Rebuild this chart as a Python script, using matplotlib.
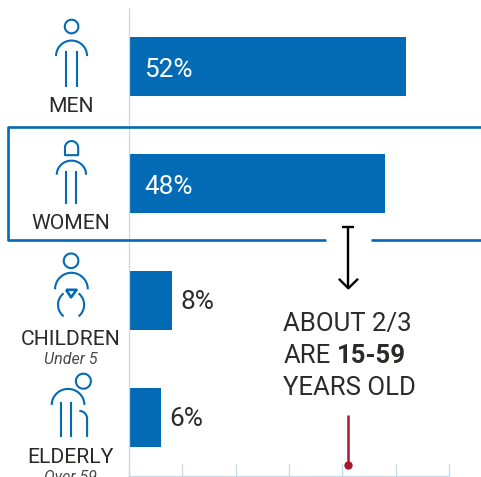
import numpy as np
import matplotlib
matplotlib.use('Agg')
import matplotlib.pyplot as plt

W, H = 481, 477

groups = ['MEN', 'WOMEN', 'CHILDREN', 'ELDERLY']
subtitles = ['', '', 'Under 5', 'Over 59']
shares = [52, 48, 8, 6]
ticks = [0, 10, 20, 30, 40, 50, 60]
marker_value = 41

BLUE = '#036ab5'
AXIS = '#c3d8e8'
DARK = '#2b2a29'
RED = '#a6192e'

plt.rcParams['font.family'] = ['Roboto', 'DejaVu Sans']

fig = plt.figure(figsize=((W + 0.5) / 100, (H + 0.5) / 100), dpi=100)

# chart axes, placed in pixels
ax = fig.add_axes([128.8 / W, 1 - 476 / H, 319.7 / W, 467.5 / H])
ax.barh(range(4), shares, height=0.5, color=BLUE)
ax.set_xlim(0, 60)
ax.set_ylim(3.5, -0.5)
ax.set_xticks(ticks)
ax.set_xticklabels([])
ax.set_yticks([])
ax.tick_params(axis='x', direction='in', length=9, width=0.9, color=AXIS)
for s in ['top', 'right']:
    ax.spines[s].set_visible(False)
for s in ['left', 'bottom']:
    ax.spines[s].set_color(AXIS)
    ax.spines[s].set_linewidth(0.9)
ax.patch.set_alpha(0)

for i, v in enumerate(shares):
    if v > 20:
        ax.annotate(f'{v}%', (0, i), xytext=(15 * 0.72, 0), textcoords='offset points',
                    color='white', fontsize=18.8, va='center_baseline', ha='left')
    else:
        ax.annotate(f'{v}%', (v, i), xytext=(8.5 * 0.72, 1), textcoords='offset points',
                    color=DARK, fontsize=18.8, va='center_baseline', ha='left')

# overlay in pixel coordinates for the icons and callouts
ov = fig.add_axes([0, 0, 1, 1])
ov.set_xlim(0, W)
ov.set_ylim(H, 0)
ov.axis('off')
ov.patch.set_alpha(0)


def line(xs, ys, color=BLUE, lw=1.5):
    ov.plot(xs, ys, color=color, lw=lw, solid_capstyle='butt', solid_joinstyle='round')


def head(cx, cy, r):
    t = np.linspace(0, 2 * np.pi, 60)
    line(cx + r * np.cos(t), cy + r * np.sin(t))


def arc(x0, x1, top, end):
    cx = (x0 + x1) / 2
    rx = (x1 - x0) / 2
    t = np.linspace(np.pi, 2 * np.pi, 40)
    line(cx + rx * np.cos(t), end + (end - top) * np.sin(t))


# men
head(71.5, 27, 6.8)
arc(56, 87, 41, 56.5)
line([66, 66], [51.5, 87])
line([76.5, 76.5], [51.5, 87])

# women
t = np.linspace(np.pi, 2 * np.pi, 30)
line(np.r_[71.5 + 6.6 * np.cos(t), 78.1, 64.9, 64.9],
     np.r_[148 + 6.6 * np.sin(t), 155.5, 155.5, 148])
arc(56.7, 86, 161, 175)
line([66, 66], [171, 204.5])
line([76, 76], [171, 204.5])

# children
head(71, 261, 7.3)
arc(55, 87.7, 273, 289.5)
line([66, 76.5, 71, 66], [290, 290, 297.5, 290], lw=1.9)
t = np.radians(np.linspace(125, 235, 30))
line(71 + 13 * np.cos(t), 305 + 14 * np.sin(-t))
line(71 - 13 * np.cos(t), 305 + 14 * np.sin(-t))

# elderly
head(83.3, 381.3, 7.5)
arc(51.7, 84.3, 389, 405)
line([61.3, 61.3], [402, 437])
line([71, 71], [402, 437])
t = np.linspace(-np.pi / 2, 0, 15)
line(np.r_[79.3, 79.3 + 7.7 * np.cos(t), 87], np.r_[411, 418.7 + 7.7 * np.sin(t), 437])

# group names
for y, name in zip([112, 229, 344.5, 462.5], groups):
    ov.text(70.5, y, name, color=DARK, fontsize=15.2, ha='center', va='baseline')
for y, sub in zip([364, 481], subtitles[2:]):
    ov.text(70.5, y, sub, color='#4a4a4a', fontsize=11.5, style='italic',
            ha='center', va='baseline', clip_on=True)

# highlight box around women
line([481, 8, 8, 326], [127.5, 127.5, 240.5, 240.5], lw=1.9)
line([371, 481], [240.5, 240.5], lw=1.9)

# arrow
line([342, 354], [227, 227], color='black', lw=1.7)
line([348, 348], [227, 288], color='black', lw=1.7)
line([338.5, 348, 357.7], [279, 288.5, 279], color='black', lw=1.7)

# callout
ov.text(283, 331, 'ABOUT 2/3', color=DARK, fontsize=18.5, va='baseline')
ov.text(283, 363, 'ARE', color=DARK, fontsize=18.5, va='baseline')
ov.text(337, 363, '15-59', color=DARK, fontsize=18.5, fontweight='bold', va='baseline')
ov.text(283, 395, 'YEARS OLD', color=DARK, fontsize=18.5, va='baseline')

# age marker on the axis
ax.plot([marker_value, marker_value], [3.41, 2.98], color=RED, lw=1.8, solid_capstyle='butt', clip_on=False)
ax.plot([marker_value], [3.41], 'o', color=RED, ms=6, mew=0, clip_on=False)

fig.savefig('out.png', dpi=100)
